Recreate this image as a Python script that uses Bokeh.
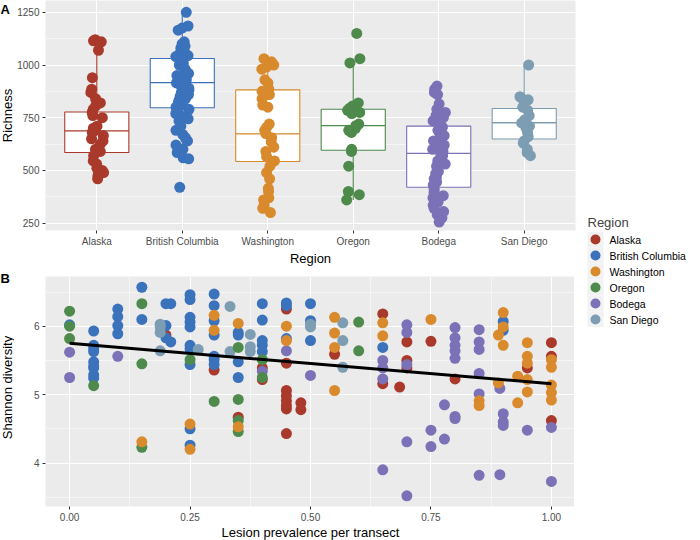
import math
from bokeh.plotting import figure
from bokeh.models import (FactorRange, Range1d, FixedTicker, NumeralTickFormatter,
                          Spacer, ColumnDataSource)
from bokeh.layouts import row, column
from bokeh.embed import file_html
from bokeh.resources import INLINE
from bokeh.core.properties import value
from bokeh.transform import jitter

FONT = "Liberation Sans"

regions = ["Alaska", "British Columbia", "Washington", "Oregon", "Bodega", "San Diego"]
colors = ["#A93A2B", "#3B72BC", "#D88A2C", "#4D8A4B", "#7A71B7", "#7D9DB3"]

# ---- Panel A: richness per region ----
rich_alaska = [1120, 1115, 1110, 1070, 940, 885, 870, 840, 820, 805, 790, 775, 760, 750, 710, 700,
               690, 680, 665, 650, 640, 625, 600, 590, 570, 545, 530, 510, 500, 490, 475, 460]
rich_bc = [1250, 1185, 1175, 1165, 1110, 1100, 1090, 1080, 1070, 1060, 1050, 1045, 1040, 1030, 1020,
           1010, 1000, 990, 980, 975, 960, 950, 940, 930, 925, 920, 915, 905, 900, 890, 880, 870, 860,
           850, 840, 830, 820, 810, 800, 790, 780, 770, 760, 745, 735, 710, 690, 670, 655, 640, 620,
           600, 585, 560, 555, 420]
rich_wa = [1030, 1015, 1000, 990, 980, 930, 915, 885, 875, 860, 840, 810, 800, 720, 705, 690, 675,
           655, 635, 610, 590, 565, 545, 520, 490, 460, 415, 400, 370, 360, 335, 320, 300]
rich_or = [1150, 1030, 1010, 820, 805, 795, 785, 775, 770, 720, 712, 700, 690, 680, 600, 590, 520,
           400, 385, 360]
rich_bo = [900, 885, 870, 860, 815, 790, 775, 760, 750, 735, 720, 705, 690, 680, 665, 650, 640, 630,
           620, 610, 600, 590, 580, 570, 560, 545, 530, 520, 510, 495, 485, 470, 460, 445, 430, 410,
           395, 380, 370, 350, 335, 320, 305, 290, 275, 255]
rich_sd = [1000, 850, 845, 835, 800, 785, 760, 740, 725, 710, 700, 680, 660, 640, 630, 600, 585, 570]
richness = [rich_alaska, rich_bc, rich_wa, rich_or, rich_bo, rich_sd]

box_q1 = [585, 797, 542, 596, 420, 649]
box_med = [688, 916, 673, 712, 581, 726]
box_q3 = [777, 1031, 882, 790, 710, 794]
whisk_lo = [460, 555, 300, 360, 255, 570]
whisk_hi = [1120, 1250, 1030, 1030, 900, 1000]

rich_ticks = [250, 500, 750, 1000, 1250]

# ---- Panel B: Shannon diversity vs lesion prevalence ----
alaska_x = [0.20, 0.30, 0.35, 0.40, 0.40, 0.45, 0.45, 0.45, 0.45, 0.45, 0.45, 0.45, 0.45, 0.48, 0.48,
            0.55, 0.65, 0.65, 0.685, 0.70, 0.70, 0.70, 0.75, 0.80, 0.95, 1.0, 1.0, 1.0]
alaska_y = [5.87, 5.36, 4.67, 5.39, 5.22, 6.25, 5.46, 5.06, 4.98, 4.91, 4.84, 4.79, 4.43, 4.88, 4.78,
            5.59, 6.18, 5.16, 5.11, 5.77, 5.50, 5.39, 5.78, 5.23, 5.39, 5.76, 5.56, 4.62]
bodega_x = [0.0, 0.0, 0.05, 0.10, 0.40, 0.45, 0.50, 0.65, 0.65, 0.65, 0.65, 0.70, 0.70, 0.70, 0.70,
            0.70, 0.75, 0.75, 0.778, 0.778, 0.80, 0.80, 0.80, 0.80, 0.80, 0.80, 0.80, 0.85, 0.85,
            0.85, 0.85, 0.85, 0.85, 0.893, 0.893, 0.90, 0.90, 0.90, 0.95, 1.0, 1.0]
bodega_y = [5.62, 5.25, 5.42, 5.56, 5.34, 5.64, 5.28, 5.50, 5.39, 5.23, 3.90, 6.02, 5.91, 5.44, 4.31,
            3.52, 4.48, 4.24, 4.85, 4.35, 5.98, 5.83, 5.72, 5.64, 5.53, 4.68, 4.65, 5.95, 5.77,
            5.66, 5.31, 5.01, 3.82, 3.83, 5.09, 4.72, 4.60, 4.55, 4.48, 4.52, 3.73]
bc_x = [0.0, 0.05, 0.05, 0.05, 0.05, 0.05, 0.05, 0.05, 0.05, 0.10, 0.10, 0.10, 0.10, 0.15, 0.15,
        0.20, 0.20, 0.20, 0.21, 0.21, 0.25, 0.25, 0.25, 0.25, 0.25, 0.25, 0.25, 0.25, 0.25, 0.25,
        0.30, 0.30, 0.30, 0.30, 0.30, 0.30, 0.30, 0.35, 0.35, 0.35, 0.35, 0.40, 0.40, 0.40, 0.40,
        0.40, 0.45, 0.45, 0.45, 0.50, 0.50, 0.50, 0.65, 0.90, 0.90]
bc_y = [6.02, 5.93, 5.72, 5.67, 5.63, 5.48, 5.39, 5.29, 5.24, 6.25, 6.14, 6.01, 5.89, 6.57, 6.10,
        6.33, 6.01, 5.83, 6.33, 5.77, 6.46, 6.39, 6.13, 6.06, 5.99, 5.72, 5.67, 5.44, 4.50, 4.26,
        6.47, 6.30, 6.08, 5.87, 5.56, 5.51, 5.44, 5.91, 5.87, 5.48, 5.25, 6.33, 6.09, 5.79, 5.72,
        5.63, 6.34, 6.30, 5.82, 6.33, 6.08, 5.79, 5.69, 6.07, 5.94]
sd_x = [0.188, 0.188, 0.188, 0.188, 0.267, 0.333, 0.333, 0.375, 0.375, 0.375, 0.50, 0.50, 0.567,
        0.567, 0.567]
sd_y = [6.03, 5.99, 5.91, 5.64, 5.66, 6.29, 5.63, 5.88, 5.70, 5.63, 6.03, 5.99, 6.05, 5.79, 5.40]
or_x = [0.0, 0.0, 0.0, 0.05, 0.15, 0.15, 0.15, 0.25, 0.30, 0.35, 0.35, 0.35, 0.35, 0.40, 0.40,
        0.60, 0.60]
or_y = [6.22, 6.00, 5.82, 5.13, 6.33, 5.45, 4.23, 5.51, 4.90, 5.69, 4.93, 4.62, 4.46, 5.51, 5.25,
        6.06, 5.64]
wa_x = [0.15, 0.25, 0.25, 0.30, 0.30, 0.35, 0.35, 0.45, 0.45, 0.55, 0.55, 0.55, 0.55, 0.65, 0.65,
        0.75, 0.85, 0.85, 0.89, 0.89, 0.90, 0.90, 0.90, 0.93, 0.93, 0.95, 0.95, 0.95, 0.95, 0.95,
        1.0, 1.0, 1.0, 1.0, 1.0]
wa_y = [4.31, 4.57, 4.20, 6.16, 5.94, 6.04, 4.53, 6.00, 5.79, 6.13, 5.90, 5.69, 5.06, 6.05, 5.86,
        6.10, 4.91, 4.84, 5.87, 5.17, 6.20, 5.99, 5.72, 5.27, 4.88, 5.76, 5.56, 5.46, 5.22, 5.04,
        5.51, 5.40, 5.14, 5.03, 4.92]

fit_x = [0.0, 1.0]
fit_y = [5.75, 5.16]

prev_ticks = [0.0, 0.25, 0.5, 0.75, 1.0]
prev_minor = [0.125, 0.375, 0.625, 0.875]
shan_ticks = [4, 5, 6]
shan_minor = [3.5, 4.5, 5.5, 6.5]

panel_tags = ["A", "B"]
y_titles = ["Richness", "Shannon diversity"]

PANEL_BG = "#EBEBEB"
TICK_COL = "#4D4D4D"


def style(p):
    p.background_fill_color = PANEL_BG
    p.border_fill_color = "white"
    p.outline_line_color = None
    for ax in (p.xaxis[0], p.yaxis[0]):
        ax.axis_line_color = None
        ax.major_tick_line_color = "#333333"
        ax.major_tick_out = 3
        ax.major_tick_in = 0
        ax.minor_tick_line_color = None
        ax.major_label_text_font = FONT
        ax.major_label_text_font_size = "10px"
        ax.major_label_text_color = TICK_COL
        ax.major_label_standoff = 2
        ax.axis_label_text_font = FONT
        ax.axis_label_text_font_size = "13px"
        ax.axis_label_text_font_style = "normal"
        ax.axis_label_text_color = "black"
        ax.axis_label_standoff = 1
    p.xgrid.grid_line_color = "white"
    p.ygrid.grid_line_color = "white"
    p.xgrid.grid_line_width = 1.1
    p.ygrid.grid_line_width = 1.1


FW, FH = 530, 230
P1_H = FH + 34          # frame + x axis
GAP = 8
P2_TOP = P1_H + GAP
TOTAL_H = P1_H + GAP + FH + 34

# ---------------- Panel A ----------------
p1 = figure(frame_width=FW, frame_height=FH,
            x_range=FactorRange(factors=regions, range_padding=1/30),
            y_range=Range1d(215, 1306),
            toolbar_location=None, output_backend="svg",
            min_border_left=28, min_border_right=2, min_border_top=0, min_border_bottom=0)
style(p1)
p1.xaxis.axis_label = "Region"
p1.yaxis.ticker = FixedTicker(ticks=rich_ticks, minor_ticks=[375, 625, 875, 1125])
p1.ygrid.minor_grid_line_color = "white"
p1.ygrid.minor_grid_line_width = 0.5

p1.segment(x0=regions, y0=box_q3, x1=regions, y1=whisk_hi, line_color=colors, line_width=1.1)
p1.segment(x0=regions, y0=box_q1, x1=regions, y1=whisk_lo, line_color=colors, line_width=1.1)
p1.vbar(x=regions, top=box_q3, bottom=box_q1, width=0.75, fill_color="white",
        line_color=colors, line_width=1.1)
p1.vbar(x=regions, top=box_med, bottom=box_med, width=0.75, fill_color=None,
        line_color=colors, line_width=1.3)

pts_reg, pts_val, pts_col = [], [], []
for r, vals, c in zip(regions, richness, colors):
    pts_reg += [r] * len(vals)
    pts_val += vals
    pts_col += [c] * len(vals)
srcA = ColumnDataSource(dict(region=pts_reg, rich=pts_val, col=pts_col))
p1.scatter(x=jitter("region", width=0.16, range=p1.x_range), y="rich", source=srcA,
           size=11, fill_color="col", line_color="col", line_width=0)

# ---------------- Panel B ----------------
p2 = figure(frame_width=FW, frame_height=FH,
            x_range=Range1d(-0.05, 1.05), y_range=Range1d(3.364, 6.727),
            toolbar_location=None, output_backend="svg",
            min_border_left=28, min_border_right=2, min_border_top=GAP, min_border_bottom=0)
style(p2)
p2.xaxis.axis_label = "Lesion prevalence per transect"
p2.xaxis.ticker = FixedTicker(ticks=prev_ticks, minor_ticks=prev_minor)
p2.yaxis.ticker = FixedTicker(ticks=shan_ticks, minor_ticks=shan_minor)
p2.xaxis.formatter = NumeralTickFormatter(format="0.00")
p2.xgrid.minor_grid_line_color = "white"
p2.ygrid.minor_grid_line_color = "white"
p2.xgrid.minor_grid_line_width = 0.5
p2.ygrid.minor_grid_line_width = 0.5

order = [(alaska_x, alaska_y, colors[0]), (bodega_x, bodega_y, colors[4]),
         (bc_x, bc_y, colors[1]), (sd_x, sd_y, colors[5]),
         (or_x, or_y, colors[3]), (wa_x, wa_y, colors[2])]
for xs, ys, c in order:
    p2.scatter(x=xs, y=ys, size=11, fill_color=c, line_color=c, line_width=0)
p2.line(x=fit_x, y=fit_y, line_color="black", line_width=3)

# ---------------- Left strip: panel tags + y-axis titles ----------------
SW = 14
strip = figure(frame_width=SW, frame_height=TOTAL_H, x_range=Range1d(0, SW),
               y_range=Range1d(TOTAL_H, 0), toolbar_location=None, output_backend="svg",
               x_axis_location=None, y_axis_location=None, min_border=0,
               outline_line_color=None)
strip.grid.visible = False
strip.text(x=[0, 0], y=[1, P2_TOP - 2], text=panel_tags, text_font=value(FONT),
           text_font_size="13px", text_font_style="bold", text_baseline="top",
           text_align="left", text_color="black")
strip.text(x=[7, 7], y=[FH / 2, P2_TOP + FH / 2], text=y_titles, angle=math.pi / 2,
           text_font=value(FONT), text_font_size="13px", text_baseline="middle",
           text_align="center", text_color="black")

# ---------------- Legend ----------------
leg = figure(frame_width=110, frame_height=96, x_range=Range1d(0, 110),
             y_range=FactorRange(factors=list(reversed(regions))),
             toolbar_location=None, output_backend="svg", title="Region",
             x_axis_location=None, y_axis_location=None,
             min_border=0, outline_line_color=None)
leg.grid.visible = False
leg.background_fill_color = "white"
leg.title.text_font = FONT
leg.title.text_font_size = "13px"
leg.title.text_font_style = "normal"
leg.title.standoff = 3
leg.title.offset = 10
leg.rect(x=18, y=regions, width=16, height=16, width_units="screen", height_units="screen",
         fill_color="#F2F2F2", line_color=None)
leg.scatter(x=18, y=regions, size=10, fill_color=colors, line_color=colors, line_width=0)
leg.text(x=32, y=regions, text=regions, text_font=value(FONT), text_font_size="10.5px",
         text_baseline="middle", text_color="black")

layout = row(strip, column(p1, p2), column(Spacer(width=110, height=211), leg))

open("out.html", "w").write(file_html(layout, INLINE))
